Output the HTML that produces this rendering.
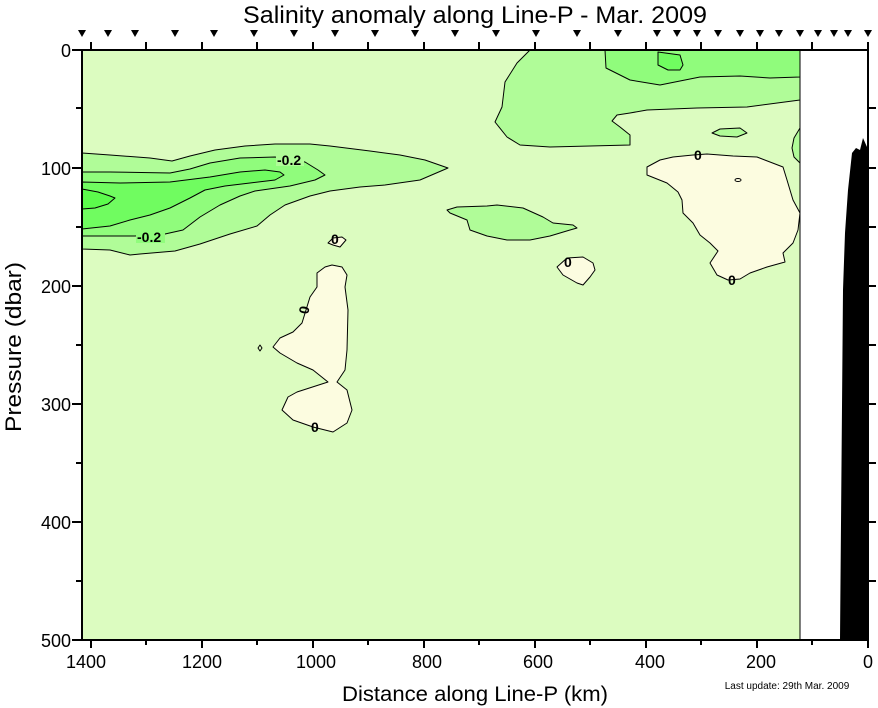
<!DOCTYPE html>
<html><head><meta charset="utf-8"><style>
html,body{margin:0;padding:0;background:#fff}
svg{display:block}
text{font-family:"Liberation Sans",Arial,sans-serif;fill:#000}
.c{stroke:#000;stroke-width:1;stroke-linejoin:round}
.l{font-size:14px;font-weight:bold}
</style></head><body>
<svg width="878" height="708" viewBox="0 0 878 708" xmlns="http://www.w3.org/2000/svg">
<rect x="82" y="50" width="718" height="590" fill="#dcfcc0"/>
<rect x="800" y="50" width="68" height="590" fill="#fff"/>
<path class="c" fill="#b0fc98" d="M82,153 L110,155 L150,158 L172,161 L190,156 L215,150 L245,146 L275,144 L310,144 L330,146 L370,151 L400,155 L425,160 L448,168 L420,180 L385,185 L360,187 L330,191 L310,196 L285,205 L270,215 L257,226 L230,234 L200,244 L175,251 L140,254 L130,255 L110,250 L82,249 Z"/>
<path class="c" fill="#90fc7c" d="M82,172 L110,172 L170,173 L190,169 L210,163 L240,158 L275,157 L305,162 L318,170 L325,175 L315,180 L290,186 L255,191 L240,196 L220,205 L200,217 L183,230 L165,234 L135,236 L82,236 Z"/>
<path class="c" fill="#70fc60" d="M82,182 L120,183 L170,182 L210,177 L240,172 L265,170 L280,172 L284,175 L275,180 L250,183 L225,186 L205,190 L190,198 L170,208 L150,215 L130,220 L110,226 L82,229 Z"/>
<path class="c" fill="#5cfc4c" d="M82,189 L98,192 L110,196 L115,198 L108,204 L95,208 L82,209 Z"/>
<path class="c" fill="#b0fc98" d="M530,50 L517,63 L505,82 L502,107 L495,122 L507,137 L520,145 L550,147 L630,145 L630,135 L620,127 L612,121 L617,115 L630,113 L647,110 L697,108 L747,107 L800,100 L800,50 Z"/>
<path class="c" fill="#90fc7c" d="M605,50 L606,68 L630,80 L660,85 L700,77 L740,76 L770,78 L800,77 L800,50 Z"/>
<path class="c" fill="#70fc60" d="M658,52 L680,55 L683,65 L680,70 L668,70 L658,65 Z"/>
<path class="c" fill="#b0fc98" d="M800,128 L794,138 L792,148 L794,157 L800,163 Z"/>
<path class="c" fill="#b0fc98" d="M712,133 L720,129 L740,128 L747,133 L737,137 L720,136 Z"/>
<path class="c" fill="#b0fc98" d="M447,210 L457,207 L487,206 L497,205 L523,208 L543,217 L553,223 L573,225 L577,228 L570,230 L550,236 L530,240 L507,240 L487,236 L470,230 L467,220 L450,213 Z"/>
<path class="c" fill="#fcfce0" d="M557,267 L567,258 L583,257 L593,263 L595,270 L590,277 L583,285 L577,283 L563,275 Z"/>
<path class="c" fill="#fcfce0" d="M647,167 L660,160 L673,157 L693,155 L707,154 L733,156 L757,157 L783,167 L787,180 L793,200 L800,213 L798,230 L793,243 L783,253 L785,262 L767,267 L750,273 L740,279 L728,280 L717,275 L710,263 L718,251 L710,243 L700,235 L693,223 L683,213 L682,200 L678,192 L667,183 L647,175 Z"/>
<ellipse class="c" cx="738" cy="180" rx="3" ry="1.5" fill="none"/>
<path class="c" fill="#fcfce0" d="M332,265 L342,267 L347,275 L345,287 L348,310 L347,350 L345,370 L337,382 L347,390 L352,410 L347,423 L333,432 L313,427 L293,420 L282,410 L288,397 L297,392 L328,382 L313,370 L297,363 L280,353 L273,347 L280,338 L293,332 L302,323 L310,297 L317,287 L317,273 L325,267 Z"/>
<path class="c" fill="#fcfce0" d="M328,243 L333,238 L342,237 L346,240 L340,247 L333,245 Z"/>
<path class="c" fill="none" d="M260,345 L262,348 L260,351 L258,348 Z"/>
<g class="l">
<rect x="276" y="152" width="28" height="14" fill="#b0fc98"/><text x="277" y="165" class="l">-0.2</text>
<rect x="136" y="229" width="29" height="14" fill="#90fc7c"/><text x="137" y="242" class="l">-0.2</text>
<text x="331" y="244" class="l">0</text>
<text x="301" y="314" class="l" transform="rotate(-80 305 310)">0</text>
<text x="311" y="432" class="l">0</text>
<text x="564" y="267" class="l">0</text>
<text x="694" y="160" class="l">0</text>
<text x="728" y="285" class="l">0</text>
</g>
<path fill="#000" d="M840,640 L843,290 L845,233 L848,190 L852,153 L856,148 L860,150 L863,138 L867,147 L868,180 L868,640 Z"/>
<line x1="800" y1="50" x2="800" y2="640" stroke="#000" stroke-width="1"/>
<rect x="82" y="50" width="786" height="590" fill="none" stroke="#000" stroke-width="2"/>
<g stroke="#000" stroke-width="2">
<line x1="868" y1="640" x2="868" y2="648"/><line x1="812" y1="640" x2="812" y2="645"/>
<line x1="757" y1="640" x2="757" y2="648"/><line x1="701" y1="640" x2="701" y2="645"/>
<line x1="646" y1="640" x2="646" y2="648"/><line x1="590" y1="640" x2="590" y2="645"/>
<line x1="535" y1="640" x2="535" y2="648"/><line x1="479" y1="640" x2="479" y2="645"/>
<line x1="424" y1="640" x2="424" y2="648"/><line x1="368" y1="640" x2="368" y2="645"/>
<line x1="313" y1="640" x2="313" y2="648"/><line x1="257" y1="640" x2="257" y2="645"/>
<line x1="202" y1="640" x2="202" y2="648"/><line x1="146" y1="640" x2="146" y2="645"/>
<line x1="91" y1="640" x2="91" y2="648"/>
<line x1="868" y1="50" x2="868" y2="42"/><line x1="812" y1="50" x2="812" y2="42"/>
<line x1="757" y1="50" x2="757" y2="42"/><line x1="701" y1="50" x2="701" y2="42"/>
<line x1="646" y1="50" x2="646" y2="42"/><line x1="590" y1="50" x2="590" y2="42"/>
<line x1="535" y1="50" x2="535" y2="42"/><line x1="479" y1="50" x2="479" y2="42"/>
<line x1="424" y1="50" x2="424" y2="42"/><line x1="368" y1="50" x2="368" y2="42"/>
<line x1="313" y1="50" x2="313" y2="42"/><line x1="257" y1="50" x2="257" y2="42"/>
<line x1="202" y1="50" x2="202" y2="42"/><line x1="146" y1="50" x2="146" y2="42"/>
<line x1="91" y1="50" x2="91" y2="42"/>
<line x1="72" y1="50" x2="82" y2="50"/><line x1="76" y1="108" x2="82" y2="108"/>
<line x1="72" y1="168" x2="82" y2="168"/><line x1="76" y1="227" x2="82" y2="227"/>
<line x1="72" y1="286" x2="82" y2="286"/><line x1="76" y1="345" x2="82" y2="345"/>
<line x1="72" y1="404" x2="82" y2="404"/><line x1="76" y1="463" x2="82" y2="463"/>
<line x1="72" y1="522" x2="82" y2="522"/><line x1="76" y1="581" x2="82" y2="581"/>
<line x1="72" y1="640" x2="82" y2="640"/>
<line x1="868" y1="108" x2="876" y2="108"/><line x1="868" y1="168" x2="876" y2="168"/>
<line x1="868" y1="227" x2="876" y2="227"/><line x1="868" y1="286" x2="876" y2="286"/>
<line x1="868" y1="345" x2="876" y2="345"/><line x1="868" y1="404" x2="876" y2="404"/>
<line x1="868" y1="463" x2="876" y2="463"/><line x1="868" y1="522" x2="876" y2="522"/>
<line x1="868" y1="581" x2="876" y2="581"/>
</g>
<g fill="#000">
<path id="t" d="M78,30 L86,30 L82,37 Z"/>
<use href="#t" x="26"/><use href="#t" x="53"/><use href="#t" x="93"/><use href="#t" x="132"/><use href="#t" x="172"/><use href="#t" x="212"/><use href="#t" x="253"/><use href="#t" x="293"/><use href="#t" x="333"/><use href="#t" x="373"/><use href="#t" x="414"/><use href="#t" x="454"/><use href="#t" x="495"/><use href="#t" x="536"/><use href="#t" x="575"/><use href="#t" x="595"/><use href="#t" x="615"/><use href="#t" x="636"/><use href="#t" x="658"/><use href="#t" x="678"/><use href="#t" x="697"/><use href="#t" x="718"/><use href="#t" x="736"/><use href="#t" x="752"/><use href="#t" x="766"/><use href="#t" x="786"/>
</g>
<text x="475" y="23" font-size="24" text-anchor="middle" textLength="464" lengthAdjust="spacingAndGlyphs">Salinity anomaly along Line-P - Mar. 2009</text>
<g font-size="18" text-anchor="end">
<text x="71" y="57">0</text><text x="71" y="175">100</text><text x="71" y="293">200</text><text x="71" y="411">300</text><text x="71" y="529">400</text><text x="71" y="647">500</text>
</g>
<g font-size="18" text-anchor="middle">
<text x="86" y="668">1400</text><text x="202" y="668">1200</text><text x="316" y="668">1000</text><text x="427" y="668">800</text><text x="538" y="668">600</text><text x="650" y="668">400</text><text x="761" y="668">200</text><text x="868" y="668">0</text>
</g>
<text x="475" y="701" font-size="21" text-anchor="middle" textLength="266" lengthAdjust="spacingAndGlyphs">Distance along Line-P (km)</text>
<text x="787" y="689" font-size="10" text-anchor="middle">Last update: 29th Mar. 2009</text>
<text transform="translate(21,347) rotate(-90)" font-size="22" text-anchor="middle" textLength="170" lengthAdjust="spacingAndGlyphs">Pressure (dbar)</text>
</svg>
</body></html>
